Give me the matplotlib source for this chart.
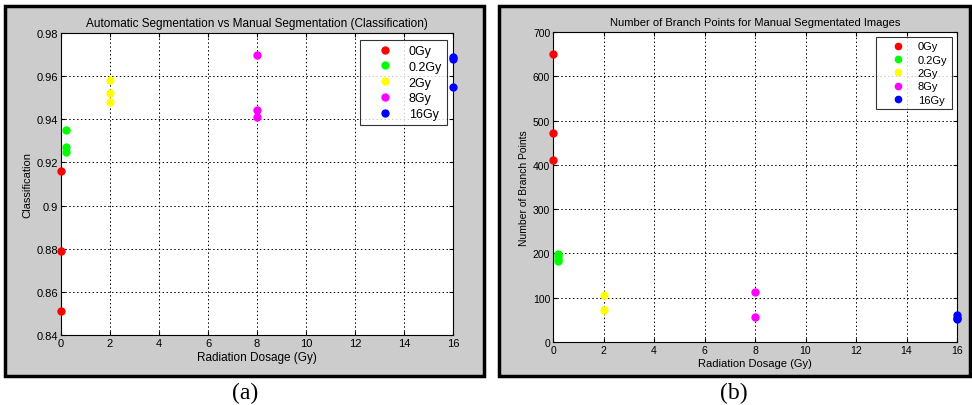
import matplotlib
matplotlib.use("Agg")
import matplotlib.pyplot as plt
from matplotlib.patches import Rectangle

plt.rcParams['font.family'] = ['Liberation Sans', 'DejaVu Sans']

groups = ['0Gy', '0.2Gy', '2Gy', '8Gy', '16Gy']
doses = [0, 0.2, 2, 8, 16]
colors = ['#ff0000', '#00ff00', '#ffff00', '#ff00ff', '#0000ff']

class_0 = [0.916, 0.879, 0.851]
class_02 = [0.935, 0.927, 0.925]
class_2 = [0.958, 0.952, 0.948]
class_8 = [0.970, 0.9445, 0.941]
class_16 = [0.969, 0.968, 0.955]
classification = [class_0, class_02, class_2, class_8, class_16]

bp_0 = [651, 472, 411]
bp_02 = [199, 194, 187, 183]
bp_2 = [106, 72]
bp_8 = [113, 56]
bp_16 = [60, 55, 52]
branch_points = [bp_0, bp_02, bp_2, bp_8, bp_16]

xticks = [0, 2, 4, 6, 8, 10, 12, 14, 16]
yticks_a = [0.84, 0.86, 0.88, 0.9, 0.92, 0.94, 0.96, 0.98]
yticks_b = [0, 100, 200, 300, 400, 500, 600, 700]

fig = plt.figure(figsize=(9.72, 4.06), dpi=100)
fig.patch.set_facecolor('white')

for (x0, w) in [(5/972, 479/972), (499/972, 471/972)]:
    fig.patches.append(Rectangle((x0, 1-377/406), w, 370/406, transform=fig.transFigure,
                                 facecolor='#cccccc', edgecolor='black', linewidth=2.5, zorder=-5))

def style(ax, yticks, ylim, ylabel, title, yfmt):
    ax.set_xlim(0, 16)
    ax.set_ylim(*ylim)
    ax.set_xticks(xticks)
    ax.set_yticks(yticks)
    ax.set_yticklabels([yfmt(v) for v in yticks])
    ax.tick_params(direction='in', labelsize=8, length=3, top=True, right=True, pad=2)
    ax.grid(True, color='black', linestyle=(0, (1.5, 2.5)), linewidth=0.7)
    ax.set_axisbelow(True)
    for s in ax.spines.values():
        s.set_linewidth(0.8)
    ax.set_xlabel('Radiation Dosage (Gy)', fontsize=8.5, labelpad=2)
    ax.set_ylabel(ylabel, fontsize=8, labelpad=3)
    ax.set_title(title, fontsize=8.5, pad=5)

ax1 = fig.add_axes([61/972, 1-336/406, 392/972, 302/406])
for d, vals, c, g in zip(doses, classification, colors, groups):
    ax1.plot([d]*len(vals), vals, 'o', color=c, ms=5, mec=c, label=g, clip_on=False, zorder=3)
style(ax1, yticks_a, (0.84, 0.98), 'Classification',
      'Automatic Segmentation vs Manual Segmentation (Classification)',
      lambda v: ('%g' % v))
leg1 = ax1.legend(loc='upper right', bbox_to_anchor=(447/972, 1-41/406), bbox_transform=fig.transFigure,
                  borderaxespad=0, fontsize=9, frameon=True, fancybox=False, edgecolor='black',
                  handlelength=3.2, handletextpad=0.3, borderpad=0.4, labelspacing=0.3, markerscale=1.0)
leg1.get_frame().set_linewidth(0.8)

ax2 = fig.add_axes([553/972, 1-343/406, 404/972, 310/406])
for d, vals, c, g in zip(doses, branch_points, colors, groups):
    ax2.plot([d]*len(vals), vals, 'o', color=c, ms=5, mec=c, label=g, clip_on=False, zorder=3)
style(ax2, yticks_b, (0, 700), 'Number of Branch Points',
      'Number of Branch Points for Manual Segmentated Images',
      lambda v: '%d' % v)
ax2.title.set_fontsize(8)
ax2.xaxis.label.set_fontsize(8)
ax2.yaxis.label.set_fontsize(7.5)
ax2.tick_params(labelsize=7.5)
leg2 = ax2.legend(loc='upper right', bbox_to_anchor=(952/972, 1-38/406), bbox_transform=fig.transFigure,
                  borderaxespad=0, fontsize=8, frameon=True, fancybox=False, edgecolor='black',
                  handlelength=3.2, handletextpad=0.2, borderpad=0.4, labelspacing=0.3, markerscale=0.9)
leg2.get_frame().set_linewidth(0.8)

fig.text(245/972, 1-393/406, '(a)', ha='center', va='center', fontsize=17, family='Liberation Serif')
fig.text(734/972, 1-393/406, '(b)', ha='center', va='center', fontsize=17, family='Liberation Serif')

fig.savefig('out.png', dpi=100, facecolor='white')
